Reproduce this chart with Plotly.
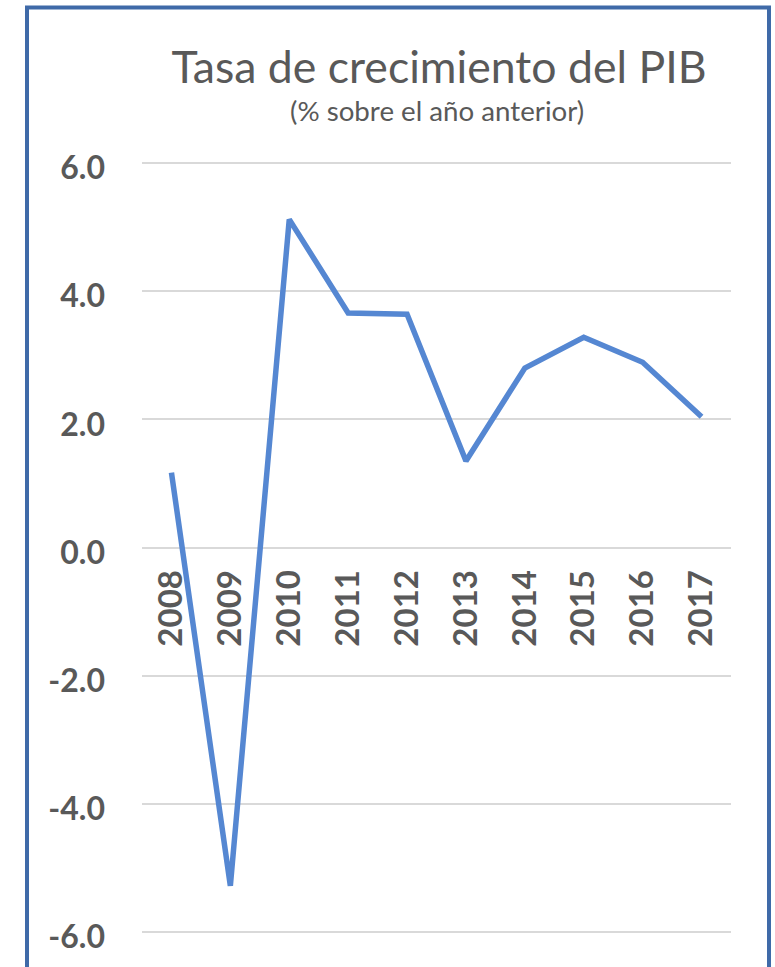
import plotly.graph_objects as go

years = ["2008", "2009", "2010", "2011", "2012", "2013", "2014", "2015", "2016", "2017"]
growth = [1.17, -5.28, 5.12, 3.66, 3.64, 1.35, 2.80, 3.28, 2.89, 2.04]
y_tickvals = [-6, -4, -2, 0, 2, 4, 6]
y_ticktext = ["-6.0", "-4.0", "-2.0", "0.0", "2.0", "4.0", "6.0"]

W, H = 775, 967
PAD = 4                      # px of extra room so edge gridlines are drawn
ML, MR, MT, MB = 142, 44, 163 - PAD, 33 - PAD
PW, PH = W - ML - MR, H - MT - MB
YLIM = 6 * PH / (PH - 2 * PAD)

def px_x(p):
    return (p - ML) / PW

def px_y(p):
    return (H - MB - p) / PH

gray = "#595959"
font_fam = "Lato, 'Open Sans', sans-serif"

fig = go.Figure()
fig.add_trace(go.Scatter(
    x=years, y=growth, mode="lines",
    line=dict(color="#5587D2", width=5.5),
    hoverinfo="skip", showlegend=False,
))

fig.update_layout(
    width=W, height=H,
    margin=dict(l=ML, r=MR, t=MT, b=MB),
    paper_bgcolor="white", plot_bgcolor="white",
    title=dict(
        text="Tasa de crecimiento del PIB",
        x=px_x(439), xref="paper", xanchor="center",
        y=1 - 67 / H, yref="container", yanchor="middle",
        font=dict(family=font_fam, size=44.6, color=gray),
    ),
    xaxis=dict(
        type="category",
        range=[-0.5, len(years) - 0.5],
        anchor="free", position=0.5,
        showgrid=False, zeroline=False, showline=False,
        ticks="", tickangle=-90,
        ticklabelstandoff=15,
        tickfont=dict(family=font_fam, size=33, color=gray, weight="bold"),
    ),
    yaxis=dict(
        range=[-YLIM, YLIM],
        tickvals=y_tickvals, ticktext=y_ticktext,
        showgrid=True, gridcolor="#D9D9D9", gridwidth=2,
        zeroline=False, showline=False, ticks="",
        ticklabelstandoff=36, ticklabelshift=5,
        tickfont=dict(family=font_fam, size=32, color=gray, weight="bold"),
    ),
    annotations=[dict(
        text="(% sobre el año anterior)",
        x=px_x(437), xref="paper", xanchor="center",
        y=px_y(110), yref="paper", yanchor="middle",
        showarrow=False,
        font=dict(family=font_fam, size=27.7, color=gray),
    )],
    shapes=[dict(
        type="rect", xref="paper", yref="paper",
        x0=px_x(27), x1=px_x(769), y0=px_y(1000), y1=px_y(7),
        line=dict(color="#3F6AA8", width=4), fillcolor="rgba(0,0,0,0)",
        layer="above",
    )],
)

fig.write_html("out.html", config={"displayModeBar": False},
               post_script="document.body.style.margin='0px';")
